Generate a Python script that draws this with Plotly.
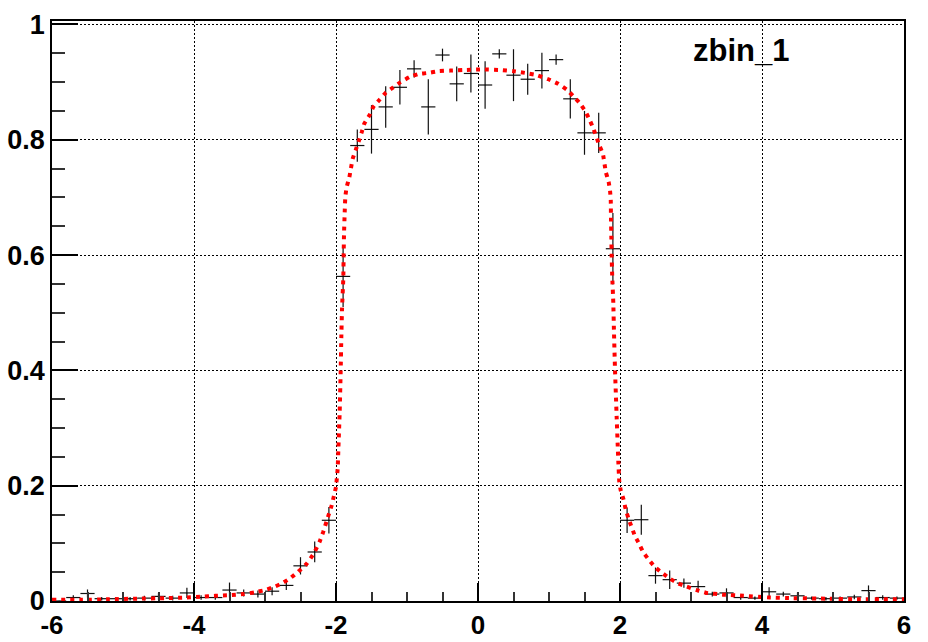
import plotly.graph_objects as go

# ---- data: binned efficiency points (bin width 0.2) ----
bin_centers = [round(-5.9 + 0.2 * i, 1) for i in range(60)]
values = [
    0.000, 0.006, 0.013, 0.004, 0.004, 0.004, 0.005, 0.008, 0.005, 0.014,   # -5.9 .. -4.1
    0.006, 0.006, 0.019, 0.014, 0.012, 0.017, 0.027, 0.061, 0.085, 0.140,   # -3.9 .. -2.1
    0.563, 0.790, 0.818, 0.857, 0.891, 0.923, 0.857, 0.947, 0.897, 0.915,   # -1.9 .. -0.1
    0.895, 0.949, 0.912, 0.905, 0.920, 0.939, 0.871, 0.812, 0.812, 0.611,   #  0.1 ..  1.9
    0.140, 0.141, 0.044, 0.037, 0.031, 0.025, 0.012, 0.014, 0.006, 0.005,   #  2.1 ..  3.9
    0.016, 0.012, 0.009, 0.005, 0.004, 0.005, 0.007, 0.018, 0.006, 0.005,   #  4.1 ..  5.9
]
errors = [
    0.000, 0.004, 0.007, 0.003, 0.003, 0.003, 0.004, 0.006, 0.004, 0.009,
    0.004, 0.004, 0.013, 0.006, 0.006, 0.007, 0.008, 0.015, 0.018, 0.023,
    0.053, 0.028, 0.042, 0.036, 0.030, 0.015, 0.048, 0.011, 0.030, 0.033,
    0.041, 0.008, 0.045, 0.027, 0.031, 0.009, 0.034, 0.038, 0.035, 0.062,
    0.022, 0.026, 0.014, 0.016, 0.008, 0.010, 0.004, 0.008, 0.004, 0.003,
    0.008, 0.004, 0.006, 0.003, 0.003, 0.003, 0.004, 0.009, 0.004, 0.003,
]

# ---- fitted curve ----
fit_x = [
    -6.0, -5.6, -5.2, -4.8, -4.4, -4.1, -3.9, -3.7, -3.5, -3.3, -3.15, -3.0,
    -2.88, -2.77, -2.65, -2.53, -2.41, -2.31, -2.23, -2.18, -2.11, -2.06, -2.03,
    -2.0, -1.976, -1.967, -1.948, -1.934, -1.925, -1.915, -1.897, -1.892, -1.887,
    -1.878, -1.869, -1.850, -1.812, -1.789, -1.765, -1.723, -1.681, -1.638,
    -1.601, -1.531, -1.474, -1.39, -1.296, -1.193, -1.09, -0.96, -0.84, -0.70,
    -0.56, -0.39, -0.21, 0.075, 0.31, 0.50, 0.66, 0.83, 0.99, 1.13, 1.25, 1.34,
    1.43, 1.51, 1.57, 1.62, 1.71, 1.76, 1.80, 1.84, 1.86, 1.87, 1.873, 1.878,
    1.883, 1.89, 1.906, 1.915, 1.93, 1.953, 1.977, 1.99, 2.01, 2.05, 2.08, 2.12,
    2.21, 2.27, 2.33, 2.41, 2.49, 2.59, 2.70, 2.81, 2.94, 3.08, 3.22, 3.45,
    3.74, 4.11, 4.44, 4.91, 5.38, 6.0,
]
fit_y = [
    0.002, 0.002, 0.003, 0.004, 0.005, 0.006, 0.0075, 0.009, 0.010, 0.012, 0.015, 0.019,
    0.024, 0.030, 0.039, 0.051, 0.065, 0.083, 0.103, 0.120, 0.147, 0.166, 0.182,
    0.198, 0.230, 0.262, 0.328, 0.400, 0.458, 0.507, 0.560, 0.603, 0.637,
    0.672, 0.701, 0.718, 0.735, 0.751, 0.767, 0.782, 0.797, 0.813,
    0.828, 0.842, 0.857, 0.869, 0.882, 0.891, 0.900, 0.909, 0.914, 0.916,
    0.919, 0.920, 0.921, 0.922, 0.921, 0.919, 0.916, 0.912, 0.905, 0.897, 0.887, 0.876,
    0.864, 0.850, 0.835, 0.821, 0.790, 0.775, 0.744, 0.727, 0.711, 0.695, 0.663, 0.631,
    0.597, 0.565, 0.516, 0.467, 0.400, 0.319, 0.240, 0.207, 0.192, 0.176, 0.159, 0.143,
    0.113, 0.099, 0.084, 0.071, 0.059, 0.049, 0.039, 0.031, 0.025, 0.019, 0.014, 0.011,
    0.009, 0.006, 0.005, 0.004, 0.003, 0.003,
]

x_tick_vals = [-6, -4, -2, 0, 2, 4, 6]
y_tick_vals = [0, 0.2, 0.4, 0.6, 0.8, 1.0]
y_tick_text = ["0", "0.2", "0.4", "0.6", "0.8", "1"]
label_text = "zbin_1"

FONT = "Liberation Sans, Arial, Helvetica, sans-serif"

fig = go.Figure()

fig.add_trace(go.Scatter(
    x=bin_centers, y=values, mode="markers",
    marker=dict(size=1, color="black"),
    error_x=dict(type="constant", value=0.1, width=0, thickness=1.2, color="#111"),
    error_y=dict(type="data", array=errors, width=0, thickness=1.2, color="#111"),
    showlegend=False, hoverinfo="skip",
))

fig.add_trace(go.Scatter(
    x=fit_x, y=fit_y, mode="lines",
    line=dict(color="#ff0000", width=4, dash="4px,5px", shape="spline", smoothing=0.3),
    showlegend=False, hoverinfo="skip",
))

fig.add_annotation(
    x=3.70, y=0.955, xref="x", yref="y", text=label_text, showarrow=False,
    font=dict(family=FONT, size=31, color="black", weight="bold"),
)

fig.update_layout(
    width=928, height=642,
    margin=dict(l=52, r=24, t=21, b=41),
    paper_bgcolor="white", plot_bgcolor="white",
    showlegend=False,
)

fig.update_xaxes(
    range=[-6, 6], tickvals=x_tick_vals, ticktext=[str(v) for v in x_tick_vals],
    automargin=False,
    showline=True, linecolor="black", linewidth=1.5, mirror=True,
    ticks="inside", ticklen=18, tickwidth=1.5, tickcolor="black",
    minor=dict(ticks="inside", ticklen=9, dtick=0.5, tickwidth=1.5, tickcolor="#333", showgrid=False),
    showgrid=True, gridcolor="black", gridwidth=1, griddash="2px,2px",
    zeroline=False,
    tickfont=dict(family=FONT, size=26, color="black", weight="bold"),
)
fig.update_yaxes(
    range=[0, 1.006], tickvals=y_tick_vals, ticktext=y_tick_text,
    automargin=False,
    showline=True, linecolor="black", linewidth=1.5, mirror=True,
    ticks="inside", ticklen=26, tickwidth=1.5, tickcolor="black",
    minor=dict(ticks="inside", ticklen=13, dtick=0.05, tickwidth=1.5, tickcolor="#333", showgrid=False),
    showgrid=True, gridcolor="black", gridwidth=1, griddash="2px,2px",
    zeroline=False,
    tickfont=dict(family=FONT, size=27, color="black", weight="bold"),
)

fig.write_html(
    "out.html",
    config={"displayModeBar": False},
    post_script="document.body.style.margin='0';document.body.style.overflow='hidden';",
)
